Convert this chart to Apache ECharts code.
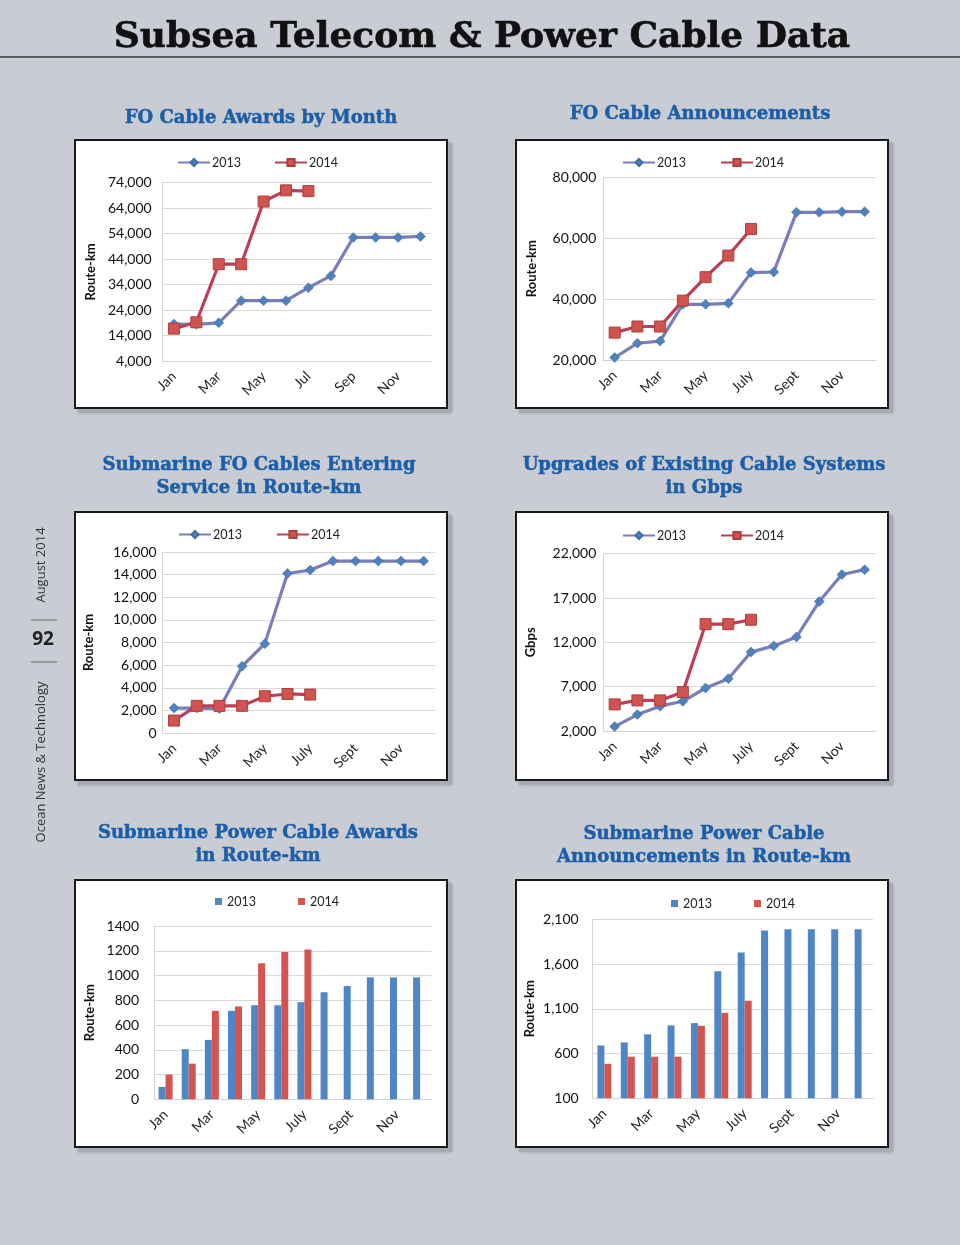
<!DOCTYPE html>
<html><head><meta charset="utf-8">
<script src="https://cdn.jsdelivr.net/npm/echarts/dist/echarts.min.js"></script>
<style>html,body{margin:0;padding:0;background:#c9cdd3}#c{width:960px;height:1245px}</style>
</head><body><div id="c"></div><script>
// ---- data ----
const months1 = ['Jan','Feb','Mar','Apr','May','Jun','Jul','Aug','Sep','Oct','Nov','Dec'];
const months2 = ['Jan','Feb','Mar','Apr','May','June','July','Aug','Sept','Oct','Nov','Dec'];
const seriesNames = ['2013','2014'];

const awards2013 = [18500,18400,19000,27700,27700,27700,32800,37400,52500,52500,52500,52900];
const awards2014 = [16700,19200,42000,42000,66600,71000,70700];
const announce2013 = [20800,25500,26200,38300,38300,38600,48700,48900,68500,68500,68700,68700];
const announce2014 = [29000,31000,31000,39500,47200,54300,63000];
const service2013 = [2200,2200,2150,5900,7900,14100,14400,15200,15200,15200,15200,15200];
const service2014 = [1100,2400,2400,2400,3250,3450,3400];
const upgrades2013 = [2500,3850,4800,5350,6850,7900,10900,11600,12600,16600,19650,20200];
const upgrades2014 = [5000,5450,5450,6400,14050,14050,14550];
const powerAwards2013 = [100,405,480,715,760,760,785,865,915,985,985,985];
const powerAwards2014 = [200,288,715,750,1100,1190,1210];
const powerAnn2013 = [690,725,815,915,940,1520,1730,1975,1990,1990,1990,1990];
const powerAnn2014 = [485,565,565,565,910,1055,1190];

const pageTitle = 'Subsea Telecom & Power Cable Data';
const panelTitles = [
  ['FO Cable Awards by Month'],
  ['FO Cable Announcements'],
  ['Submarine FO Cables Entering','Service in Route-km'],
  ['Upgrades of Existing Cable Systems','in Gbps'],
  ['Submarine Power Cable Awards','in Route-km'],
  ['Submarine Power Cable','Announcements in Route-km']
];
const yNames = ['Route-km','Route-km','Route-km','Gbps','Route-km','Route-km'];

// ---- layout ----
const panels = [
  {cats:months1, a:awards2013, b:awards2014, type:'line',
   grid:{left:162.7, top:182.7, width:269, height:178.3},
   y:{min:4000,max:74000,interval:10000}, comma:true, nameGap:65, lm:11,
   leg:{left:177, top:156, gap:36}, box:[75,140,372,268], tx:261, ty:[118]},
  {cats:months2, a:announce2013, b:announce2014, type:'line',
   grid:{left:603.3, top:177.3, width:272.7, height:182.7},
   y:{min:20000,max:80000,interval:20000}, comma:true, nameGap:65, lm:7,
   leg:{left:622, top:156, gap:37}, box:[516,140,372,268], tx:700, ty:[114]},
  {cats:months2, a:service2013, b:service2014, type:'line',
   grid:{left:162.7, top:552, width:272.3, height:181},
   y:{min:0,max:16000,interval:2000}, comma:true, nameGap:67, lm:6,
   leg:{left:178, top:528, gap:37}, box:[75,512,372,268], tx:259, ty:[465,488]},
  {cats:months2, a:upgrades2013, b:upgrades2014, type:'line',
   grid:{left:603.3, top:553.7, width:272.7, height:177.3},
   y:{min:2000,max:22000,interval:5000}, comma:true, nameGap:66, lm:7,
   leg:{left:622, top:529, gap:37}, box:[516,512,372,268], tx:704, ty:[465,488]},
  {cats:months2, a:powerAwards2013, b:powerAwards2014, type:'bar',
   grid:{left:154, top:926, width:277.7, height:173.3},
   y:{min:0,max:1400,interval:200}, comma:false, nameGap:58, lm:15,
   leg:{left:215, top:895, gap:42}, box:[75,880,372,267], tx:258, ty:[833,856]},
  {cats:months2, a:powerAnn2013, b:powerAnn2014, type:'bar',
   grid:{left:592.7, top:919.3, width:280.6, height:179},
   y:{min:100,max:2100,interval:500}, comma:true, nameGap:56, lm:14,
   leg:{left:671, top:897, gap:42}, box:[516,880,372,267], tx:704, ty:[834,857]}
];

const FONT = 'Lato, "Open Sans", sans-serif';
const blueLine = '#7b7db8', blueMark = '#4f81bd';
const redLine = '#bb3f5a', redMark = '#d0534f', redEdge = '#a8403d';
const barBlue = '#4f86c6', barRed = '#d2554f';

const grids = [], xAxes = [], yAxes = [], series = [], legends = [], graphics = [];

panels.forEach((p, i) => {
  const id = 'c' + (i + 1);
  grids.push(Object.assign({containLabel:false}, p.grid));
  xAxes.push({type:'category', gridIndex:i, data:p.cats, boundaryGap:true,
    axisLine:{show:true, lineStyle:{color:'#d4d4d4', width:1}}, axisTick:{show:false},
    axisLabel:{interval:1, rotate:45, fontSize:14, color:'#222', fontFamily:FONT, margin:13},
    splitLine:{show:false}});
  yAxes.push({type:'value', gridIndex:i, min:p.y.min, max:p.y.max, interval:p.y.interval,
    name:yNames[i], nameLocation:'middle', nameGap:p.nameGap,
    nameTextStyle:{fontWeight:'bold', fontSize:13, color:'#111', fontFamily:FONT},
    axisLine:{show:true, lineStyle:{color:'#d4d4d4', width:1}}, axisTick:{show:false},
    axisLabel:{fontSize:14, color:'#111', fontFamily:FONT, margin:p.lm,
      formatter: v => p.comma ? v.toLocaleString('en-US') : String(v)},
    splitLine:{show:true, lineStyle:{color:'#d9d9d9', width:1}}});
  if (p.type === 'line') {
    series.push({type:'line', name:id+'_'+seriesNames[0], xAxisIndex:i, yAxisIndex:i, data:p.a,
      symbol:'diamond', symbolSize:10, showAllSymbol:true,
      lineStyle:{color:blueLine, width:3.2}, itemStyle:{color:blueMark, borderColor:'#3f6fa8', borderWidth:0.5}});
    series.push({type:'line', name:id+'_'+seriesNames[1], xAxisIndex:i, yAxisIndex:i, data:p.b,
      symbol:'rect', symbolSize:11, showAllSymbol:true,
      lineStyle:{color:redLine, width:3.2}, itemStyle:{color:redMark, borderColor:redEdge, borderWidth:1}});
    legends.push({left:p.leg.left, top:p.leg.top, padding:0, itemGap:p.leg.gap - 3, itemWidth:32, itemHeight:9,
      data:[id+'_'+seriesNames[0], id+'_'+seriesNames[1]],
      formatter: n => n.split('_')[1], selectedMode:false,
      textStyle:{fontSize:12.5, color:'#222', fontFamily:FONT, padding:[0,0,0,-3]}});
  } else {
    series.push({type:'bar', name:id+'_'+seriesNames[0], xAxisIndex:i, yAxisIndex:i, data:p.a,
      barWidth:7, barGap:'0%', itemStyle:{color:barBlue}});
    series.push({type:'bar', name:id+'_'+seriesNames[1], xAxisIndex:i, yAxisIndex:i, data:p.b,
      barWidth:7, barGap:'0%', itemStyle:{color:barRed}});
    legends.push({left:p.leg.left, top:p.leg.top, padding:0, itemGap:p.leg.gap, itemWidth:7, itemHeight:7, icon:'rect',
      data:[id+'_'+seriesNames[0], id+'_'+seriesNames[1]],
      formatter: n => n.split('_')[1], selectedMode:false,
      textStyle:{fontSize:12.5, color:'#222', fontFamily:FONT}});
  }
  const b = p.box;
  graphics.push({type:'rect', z:-20, shape:{x:b[0]+3, y:b[1]+3, width:b[2]+2, height:b[3]+2},
    style:{fill:'#a6aab1', stroke:null, shadowColor:'rgba(120,125,135,0.6)', shadowBlur:3}});
  graphics.push({type:'rect', z:-10, shape:{x:b[0], y:b[1], width:b[2], height:b[3]},
    style:{fill:'#fff', stroke:'#1a1a1a', lineWidth:2}});
  panelTitles[i].forEach((t, k) => {
    graphics.push({type:'text', z:10, style:{text:t, x:p.tx, y:p.ty[k],
      align:'center', textAlign:'center', verticalAlign:'middle', textVerticalAlign:'middle',
      font:'bold 18px "DejaVu Serif", serif', fill:'#1c5ea8', stroke:'#1c5ea8', lineWidth:0.5}});
  });
});

// page header and side strip
graphics.push({type:'text', z:10, style:{text:pageTitle, x:482, y:38,
  align:'center', textAlign:'center', verticalAlign:'middle', textVerticalAlign:'middle',
  font:'bold 36px "DejaVu Serif", serif', fill:'#111', stroke:'#111', lineWidth:0.6}});
graphics.push({type:'line', z:10, shape:{x1:0, y1:57, x2:960, y2:57}, style:{stroke:'#333', lineWidth:1.5}});
graphics.push({type:'text', z:10, x:41, y:565, rotation:Math.PI/2,
  style:{text:'August 2014', x:0, y:0, align:'center', textAlign:'center', verticalAlign:'middle', textVerticalAlign:'middle',
  font:'13px "Open Sans", sans-serif', fill:'#333'}});
graphics.push({type:'text', z:10, x:41, y:762, rotation:Math.PI/2,
  style:{text:'Ocean News & Technology', x:0, y:0, align:'center', textAlign:'center', verticalAlign:'middle', textVerticalAlign:'middle',
  font:'13px "Open Sans", sans-serif', fill:'#333'}});
graphics.push({type:'text', z:10, style:{text:'92', x:43, y:640,
  align:'center', textAlign:'center', verticalAlign:'middle', textVerticalAlign:'middle',
  font:'bold 19px "Open Sans", sans-serif', fill:'#222'}});
graphics.push({type:'line', z:10, shape:{x1:31, y1:620, x2:57, y2:620}, style:{stroke:'#666', lineWidth:1}});
graphics.push({type:'line', z:10, shape:{x1:31, y1:662, x2:57, y2:662}, style:{stroke:'#666', lineWidth:1}});

const chart = echarts.init(document.getElementById('c'), null, {renderer:'canvas'});
chart.setOption({
  backgroundColor:'#c9cdd3',
  animation:false,
  grid:grids, xAxis:xAxes, yAxis:yAxes, series:series, legend:legends,
  graphic:{elements:graphics}
});
</script></body></html>
